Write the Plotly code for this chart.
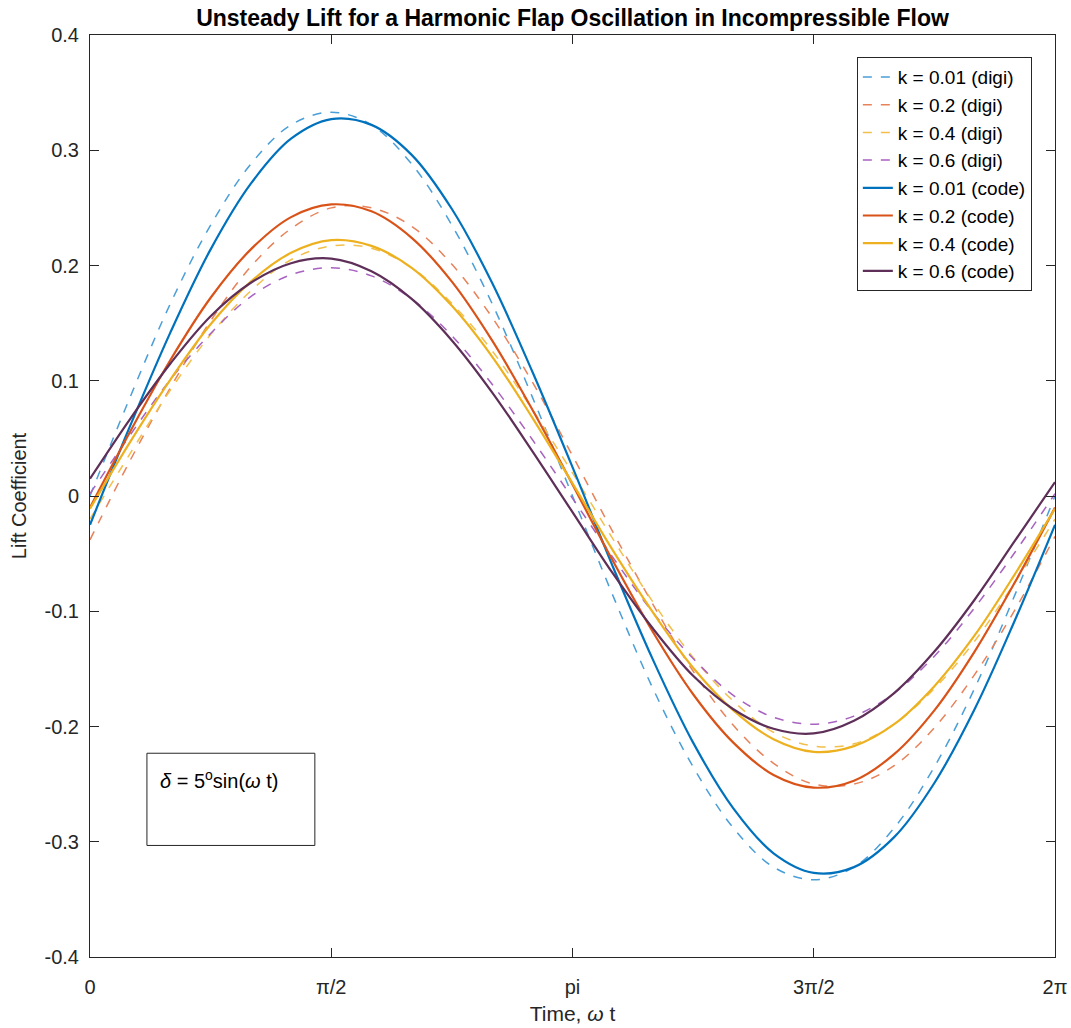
import math
import plotly.graph_objects as go

# x positions (degrees), every 15 degrees over one period
x_deg = [0, 15, 30, 45, 60, 75, 90, 105, 120, 135, 150, 165, 180,
         195, 210, 225, 240, 255, 270, 285, 300, 315, 330, 345, 360]

digi_k001 = [0.000, 0.086, 0.167, 0.235, 0.288, 0.322, 0.333, 0.322, 0.288, 0.235, 0.167, 0.086, 0.000,
             -0.086, -0.167, -0.235, -0.288, -0.322, -0.333, -0.322, -0.288, -0.235, -0.167, -0.086, 0.000]
digi_k02 = [-0.038, 0.031, 0.094, 0.152, 0.199, 0.232, 0.250, 0.250, 0.234, 0.201, 0.155, 0.099, 0.035,
            -0.031, -0.094, -0.152, -0.199, -0.232, -0.250, -0.250, -0.234, -0.201, -0.155, -0.099, -0.035]
digi_k04 = [-0.020, 0.037, 0.092, 0.140, 0.178, 0.205, 0.217, 0.215, 0.198, 0.167, 0.126, 0.075, 0.020,
            -0.037, -0.092, -0.140, -0.178, -0.205, -0.217, -0.215, -0.198, -0.167, -0.126, -0.075, -0.020]
digi_k06 = [0.002, 0.053, 0.101, 0.141, 0.173, 0.192, 0.198, 0.191, 0.171, 0.139, 0.097, 0.049, -0.002,
            -0.053, -0.101, -0.141, -0.173, -0.192, -0.198, -0.191, -0.171, -0.139, -0.097, -0.049, 0.002]

code_k001 = [-0.025, 0.061, 0.142, 0.214, 0.271, 0.310, 0.327, 0.322, 0.296, 0.249, 0.185, 0.108, 0.025,
             -0.061, -0.142, -0.214, -0.271, -0.310, -0.327, -0.322, -0.296, -0.249, -0.185, -0.108, -0.025]
code_k02 = [-0.010, 0.056, 0.118, 0.172, 0.214, 0.242, 0.253, 0.247, 0.224, 0.186, 0.135, 0.075, 0.010,
            -0.056, -0.118, -0.172, -0.214, -0.242, -0.253, -0.247, -0.224, -0.186, -0.135, -0.075, -0.010]
code_k04 = [-0.011, 0.047, 0.101, 0.149, 0.186, 0.211, 0.222, 0.217, 0.198, 0.165, 0.121, 0.068, 0.011,
            -0.047, -0.101, -0.149, -0.186, -0.211, -0.222, -0.217, -0.198, -0.165, -0.121, -0.068, -0.011]
code_k06 = [0.015, 0.067, 0.115, 0.156, 0.185, 0.202, 0.206, 0.195, 0.171, 0.135, 0.090, 0.039, -0.014,
            -0.067, -0.115, -0.156, -0.185, -0.202, -0.206, -0.195, -0.171, -0.135, -0.090, -0.039, 0.012]

x_tick_vals = [0, math.pi / 2, math.pi, 3 * math.pi / 2, 2 * math.pi]
x_tick_text = ["0", "π/2", "pi", "3π/2", "2π"]
y_tick_vals = [-0.4, -0.3, -0.2, -0.1, 0, 0.1, 0.2, 0.3, 0.4]
y_tick_text = ["-0.4", "-0.3", "-0.2", "-0.1", "0", "0.1", "0.2", "0.3", "0.4"]

x = [math.radians(d) for d in x_deg]

series = [
    ("k = 0.01 (digi)", digi_k001, "#4A9FD8", "dash", 1.5),
    ("k = 0.2 (digi)", digi_k02, "#E8825A", "dash", 1.5),
    ("k = 0.4 (digi)", digi_k04, "#F2C04A", "dash", 1.5),
    ("k = 0.6 (digi)", digi_k06, "#A862C0", "dash", 1.5),
    ("k = 0.01 (code)", code_k001, "#0072BD", "solid", 2.2),
    ("k = 0.2 (code)", code_k02, "#D95319", "solid", 2.2),
    ("k = 0.4 (code)", code_k04, "#EDB120", "solid", 2.2),
    ("k = 0.6 (code)", code_k06, "#5E2F58", "solid", 2.2),
]

fig = go.Figure()
for i, (name, y, color, dash, w) in enumerate(series):
    fig.add_trace(go.Scatter(
        x=x, y=y, mode="lines", name=name, legendgroup=f"g{i}",
        line=dict(color=color, dash=dash, width=w, shape="spline", smoothing=1.0),
    ))

font_family = "Liberation Sans, Arial, sans-serif"

fig.update_layout(
    width=1071, height=1028,
    margin=dict(l=90, r=16, t=35, b=71),
    paper_bgcolor="white", plot_bgcolor="white",
    font=dict(family=font_family, size=20, color="#262626"),
    title=dict(text="<b>Unsteady Lift for a Harmonic Flap Oscillation in Incompressible Flow</b>",
               x=(90 + 1055) / 2 / 1071, xanchor="center", y=1 - 18 / 1028, yanchor="middle",
               font=dict(size=23, color="black")),
    showlegend=True,
    legend=dict(x=0.976, y=0.976, xanchor="right", yanchor="top",
                bgcolor="white", bordercolor="#262626", borderwidth=1,
                font=dict(size=19, color="black"), tracegroupgap=0,
                traceorder="normal", entrywidth=150, entrywidthmode="pixels"),
)

fig.update_xaxes(
    range=[0, 2 * math.pi], tickvals=x_tick_vals, ticktext=x_tick_text,
    showgrid=False, zeroline=False, showline=True, mirror="ticks",
    linecolor="#262626", linewidth=1, ticks="inside", ticklen=9, tickcolor="#262626",
    ticklabelstandoff=12, automargin=False,
    title=dict(text="Time, <i>ω</i> t", font=dict(size=21), standoff=9),
    tickfont=dict(size=20),
)
fig.update_yaxes(
    range=[-0.4, 0.4], tickvals=y_tick_vals, ticktext=y_tick_text,
    showgrid=False, zeroline=False, showline=True, mirror="ticks",
    linecolor="#262626", linewidth=1, ticks="inside", ticklen=9, tickcolor="#262626",
    ticklabelstandoff=6, automargin=False,
    title=dict(text="Lift Coefficient", font=dict(size=20), standoff=12),
    tickfont=dict(size=20),
)

fig.add_shape(type="rect", xref="paper", yref="paper",
              x0=0.059, x1=0.233, y0=0.121, y1=0.221,
              line=dict(color="#262626", width=1), fillcolor="white", layer="above")
fig.add_annotation(xref="paper", yref="paper", x=0.070, y=0.192,
                   xanchor="left", yanchor="middle", showarrow=False,
                   text="<i>δ</i> = 5<sup>o</sup>sin(<i>ω</i> t)",
                   font=dict(size=20, color="black"))

fig.write_html("out.html")
